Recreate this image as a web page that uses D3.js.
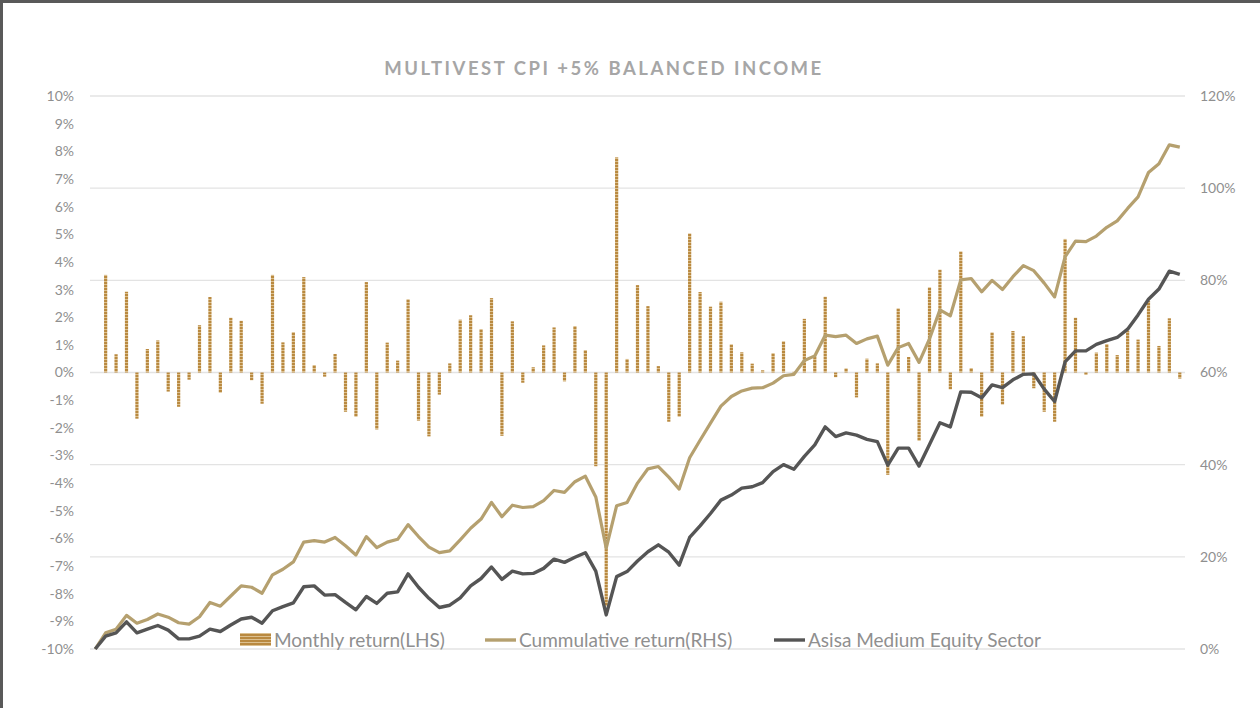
<!DOCTYPE html>
<html>
<head>
<meta charset="utf-8">
<script src="https://cdn.jsdelivr.net/npm/d3@7"></script>
<style>
    html, body { margin: 0; padding: 0; background: #fff; }
    svg { display: block; font-family: Lato, "Open Sans", sans-serif; }
</style>
</head>
<body>
<svg id="chart" width="1260" height="708"></svg>
<script>
// monthly return (LHS), first month has no bar
var monthly = [null,
    3.53, 0.66, 2.92, -1.67, 0.85, 1.16, -0.69, -1.24, -0.26, 1.71,
    2.73, -0.73, 1.98, 1.87, -0.28, -1.13, 3.53, 1.09, 1.46, 3.45,
    0.27, -0.15, 0.67, -1.42, -1.60, 3.27, -2.06, 1.08, 0.43, 2.65,
    -1.74, -2.31, -0.80, 0.33, 1.91, 2.07, 1.57, 2.69, -2.29, 1.85,
    -0.37, 0.19, 0.98, 1.63, -0.32, 1.68, 0.81, -3.39, -8.45, 7.78,
    0.49, 3.16, 2.40, 0.23, -1.78, -1.60, 5.03, 2.91, 2.38, 2.56,
    1.02, 0.73, 0.32, 0.08, 0.70, 1.13, 0.03, 1.94, 0.57, 2.74,
    -0.17, 0.15, -0.90, 0.50, 0.33, -3.70, 2.32, 0.56, -2.47, 3.08,
    3.72, -0.61, 4.38, 0.16, -1.60, 1.45, -1.16, 1.50, 1.31, -0.57,
    -1.42, -1.78, 4.83, 1.98, -0.09, 0.72, 1.03, 0.63, 1.51, 1.19,
    2.59, 0.96, 1.96, -0.22];

// cumulative return (RHS)
var cumulative = [0,
    3.5, 4.3, 7.3, 5.6, 6.4, 7.6, 6.9, 5.7, 5.4, 7.0,
    10.1, 9.3, 11.5, 13.7, 13.4, 12.1, 16.1, 17.3, 18.9, 23.2,
    23.5, 23.2, 24.2, 22.4, 20.4, 24.4, 22.0, 23.2, 23.8, 27.0,
    24.4, 22.1, 20.9, 21.3, 23.7, 26.2, 28.2, 31.8, 28.7, 31.2,
    30.7, 30.9, 32.2, 34.4, 34.0, 36.3, 37.5, 33.0, 21.9, 31.1,
    31.8, 36.0, 39.1, 39.6, 37.3, 34.7, 41.5, 45.3, 49.0, 52.7,
    54.8, 56.0, 56.6, 56.7, 57.7, 59.3, 59.6, 62.6, 63.6, 68.1,
    67.8, 68.1, 66.3, 67.3, 67.9, 61.6, 65.4, 66.3, 62.2, 67.3,
    73.6, 72.3, 80.1, 80.4, 77.5, 80.0, 78.0, 80.8, 83.2, 82.1,
    79.4, 76.4, 85.1, 88.5, 88.4, 89.6, 91.5, 92.9, 95.6, 98.1,
    103.4, 105.3, 109.4, 108.9];

// asisa medium equity sector (RHS)
var sector = [0,
    2.8, 3.5, 5.9, 3.5, 4.3, 5.1, 4.1, 2.2, 2.2, 2.8,
    4.3, 3.8, 5.2, 6.5, 6.9, 5.6, 8.3, 9.2, 10.0, 13.5,
    13.7, 11.7, 11.8, 10.1, 8.5, 11.4, 9.9, 12.1, 12.4, 16.3,
    13.4, 11.0, 9.0, 9.5, 11.1, 13.7, 15.3, 17.8, 15.1, 16.9,
    16.3, 16.4, 17.5, 19.5, 18.8, 19.9, 20.9, 16.9, 7.4, 15.7,
    16.8, 19.1, 21.1, 22.6, 21.0, 18.2, 24.2, 26.7, 29.4, 32.3,
    33.4, 34.9, 35.2, 36.1, 38.5, 40.0, 39.0, 41.8, 44.3, 48.2,
    46.1, 46.9, 46.4, 45.5, 45.0, 39.9, 43.6, 43.6, 39.7, 44.4,
    49.1, 48.2, 55.8, 55.7, 54.5, 57.3, 56.7, 58.4, 59.6, 59.7,
    56.4, 53.7, 62.3, 64.7, 64.7, 66.1, 66.9, 67.6, 69.4, 72.5,
    75.9, 78.1, 82.0, 81.3];

var leftTicks = d3.range(-10, 11, 1);
var rightTicks = d3.range(0, 121, 20);
var seriesNames = ["Monthly return(LHS)", "Cummulative return(RHS)", "Asisa Medium Equity Sector"];
var title = "MULTIVEST CPI +5% BALANCED INCOME";

var svg = d3.select("#chart");
var plot = {left: 90, right: 1185, top: 96, bottom: 649};

// frame (top + left edge)
svg.append("rect").attr("x", 0).attr("y", 0).attr("width", 1260).attr("height", 3).attr("fill", "#595959");
svg.append("rect").attr("x", 0).attr("y", 0).attr("width", 3).attr("height", 708).attr("fill", "#595959");

// striped fill for the bars
var defs = svg.append("defs");
var pat = defs.append("pattern")
    .attr("id", "stripes")
    .attr("patternUnits", "userSpaceOnUse")
    .attr("width", 4).attr("height", 3);
pat.append("rect").attr("width", 4).attr("height", 3).attr("fill", "#dcc08f");
pat.append("rect").attr("width", 4).attr("height", 2).attr("fill", "#b9893f");

var x = d3.scaleBand()
    .domain(d3.range(cumulative.length))
    .range([plot.left, plot.right]);

var yL = d3.scaleLinear().domain([-10, 10]).range([plot.bottom, plot.top]);
var yR = d3.scaleLinear().domain([0, 120]).range([plot.bottom, plot.top]);

var cx = function(i) { return x(i) + x.bandwidth() / 2; };

// gridlines follow the right axis
svg.append("g")
    .selectAll("line")
    .data(rightTicks)
    .enter().append("line")
    .attr("x1", plot.left).attr("x2", plot.right)
    .attr("y1", function(d) { return yR(d); })
    .attr("y2", function(d) { return yR(d); })
    .attr("stroke", "#e3e3e3")
    .attr("stroke-width", 1.3);

// axes
var leftAxis = svg.append("g")
    .attr("transform", "translate(" + (plot.left - 16) + ",0)")
    .call(d3.axisLeft(yL).tickValues(leftTicks).tickSize(0).tickPadding(0)
        .tickFormat(function(d) { return d + "%"; }));
var rightAxis = svg.append("g")
    .attr("transform", "translate(" + (plot.right + 15) + ",0)")
    .call(d3.axisRight(yR).tickValues(rightTicks).tickSize(0).tickPadding(0)
        .tickFormat(function(d) { return d + "%"; }));
[leftAxis, rightAxis].forEach(function(a) {
    a.select(".domain").remove();
    a.selectAll("text")
        .attr("fill", "#8f8f8f")
        .style("font-size", "14px")
        .style("font-family", "Lato, 'Open Sans', sans-serif");
});

// bars
var barData = monthly.map(function(v, i) { return {i: i, v: v}; })
    .filter(function(d) { return d.v !== null; });
svg.append("g")
    .selectAll("rect")
    .data(barData)
    .enter().append("rect")
    .attr("x", function(d) { return cx(d.i) - 1.6; })
    .attr("width", 3.2)
    .attr("y", function(d) { return yL(Math.max(0, d.v)); })
    .attr("height", function(d) { return Math.abs(yL(d.v) - yL(0)); })
    .attr("fill", "url(#stripes)");

// lines
var line = d3.line()
    .x(function(d, i) { return cx(i); })
    .y(function(d) { return yR(d); });

svg.append("path")
    .datum(cumulative)
    .attr("d", line)
    .attr("fill", "none")
    .attr("stroke", "#b5a06f")
    .attr("stroke-width", 3.2)
    .attr("stroke-linejoin", "round");

svg.append("path")
    .datum(sector)
    .attr("d", line)
    .attr("fill", "none")
    .attr("stroke", "#555555")
    .attr("stroke-width", 3.4)
    .attr("stroke-linejoin", "round");

// title
svg.append("text")
    .attr("x", 604).attr("y", 75)
    .attr("text-anchor", "middle")
    .attr("fill", "#a6a6a6")
    .style("font-size", "18.5px")
    .style("font-weight", "bold")
    .style("letter-spacing", "2.5px")
    .text(title);

// legend
var legend = svg.append("g").attr("transform", "translate(0,640)");
var legendItems = [
    {x: 240, kind: "bar"},
    {x: 485, kind: "gold"},
    {x: 774, kind: "dark"}
];
legendItems.forEach(function(item, k) {
    var g = legend.append("g").attr("transform", "translate(" + item.x + ",0)");
    if (item.kind === "bar") {
        g.append("rect").attr("x", 0).attr("y", -7).attr("width", 31).attr("height", 13)
            .attr("fill", "url(#stripes)");
    } else {
        g.append("line").attr("x1", 0).attr("x2", 31).attr("y1", 0).attr("y2", 0)
            .attr("stroke", item.kind === "gold" ? "#b5a06f" : "#555555")
            .attr("stroke-width", 3.4);
    }
    g.append("text")
        .attr("x", 34)
        .attr("y", 7)
        .attr("fill", "#8f8f8f")
        .style("font-size", "19px")
        .text(seriesNames[k]);
});
</script>
</body>
</html>
